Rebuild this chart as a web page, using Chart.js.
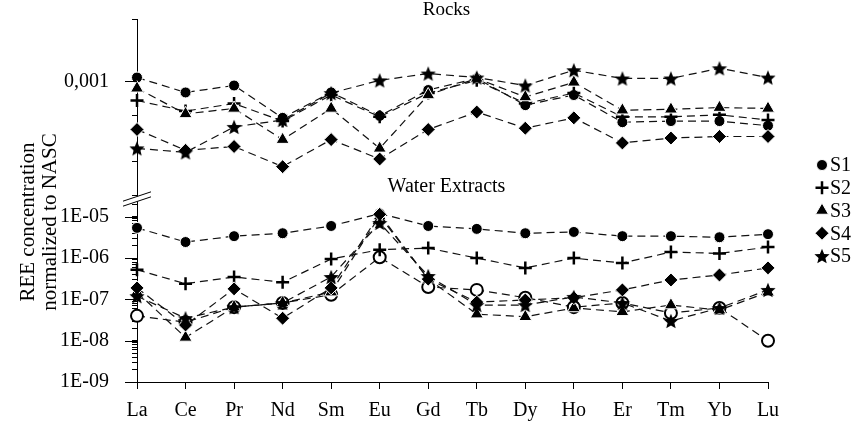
<!DOCTYPE html>
<html>
<head>
<meta charset="utf-8">
<script src="https://cdn.jsdelivr.net/npm/chart.js@4.4.1/dist/chart.umd.min.js"></script>
<style>
  html, body { margin: 0; padding: 0; background: #fff; }
</style>
</head>
<body>
<canvas id="ree-chart" width="858" height="428"></canvas>
<script>
// elements on the x axis
const elements = ['La', 'Ce', 'Pr', 'Nd', 'Sm', 'Eu', 'Gd', 'Tb', 'Dy', 'Ho', 'Er', 'Tm', 'Yb', 'Lu'];
const seriesNames = ['S1', 'S2', 'S3', 'S4', 'S5'];

// Rocks (upper panel)
const rockS1 = [0.00108, 0.0008, 0.00092, 0.00048, 0.0008, 0.0005, 0.00084, 0.00106, 0.00062, 0.00076, 0.00044, 0.00045, 0.00045, 0.00041];
const rockS2 = [0.00068, 0.00055, 0.00064, 0.00045, 0.00076, 0.00049, 0.00079, 0.00102, 0.00064, 0.00079, 0.00049, 0.00049, 0.00051, 0.00046];
const rockS3 = [0.00087, 0.00052, 0.00058, 0.00031, 0.00058, 0.00026, 0.00076, 0.00106, 0.00073, 0.00098, 0.00056, 0.00057, 0.00059, 0.00058];
const rockS4 = [0.00038, 0.00025, 0.00027, 0.00018, 0.00031, 0.00021, 0.00038, 0.00054, 0.00039, 0.00048, 0.00029, 0.00032, 0.00033, 0.00033];
const rockS5 = [0.00026, 0.00024, 0.0004, 0.00046, 0.00079, 0.00102, 0.00117, 0.00108, 0.00092, 0.00125, 0.00106, 0.00106, 0.0013, 0.00108];

// Water extracts (lower panel)
const waterS1 = [5.4e-6, 2.45e-6, 3.4e-6, 4.0e-6, 6.0e-6, 1.2e-5, 6.0e-6, 5.1e-6, 4.0e-6, 4.3e-6, 3.4e-6, 3.4e-6, 3.2e-6, 3.8e-6];
const waterS2 = [5.2e-7, 2.4e-7, 3.5e-7, 2.6e-7, 9.5e-7, 1.6e-6, 1.75e-6, 1.0e-6, 5.8e-7, 1.0e-6, 7.6e-7, 1.4e-6, 1.3e-6, 1.85e-6];
const waterS3 = [1.5e-7, 1.2e-8, 6.5e-8, 8.2e-8, 1.5e-7, 1.05e-5, 3.1e-7, 4.4e-8, 3.8e-8, 6.2e-8, 5.0e-8, 7.3e-8, 5.5e-8, 1.5e-7];
const waterS4 = [1.9e-7, 2.4e-8, 1.8e-7, 3.5e-8, 1.9e-7, 1.15e-5, 3.1e-7, 8.6e-8, 9.7e-8, 1.1e-7, 1.7e-7, 2.95e-7, 3.9e-7, 5.8e-7];
const waterS5 = [1.2e-7, 3.5e-8, 6.5e-8, 8.2e-8, 3.5e-7, 7.1e-6, 3.7e-7, 7.3e-8, 7.3e-8, 1.15e-7, 8.2e-8, 3.0e-8, 6.2e-8, 1.7e-7];
const waterOpen = [4.0e-8, 2.8e-8, 6.5e-8, 8.2e-8, 1.3e-7, 1.05e-6, 2.0e-7, 1.7e-7, 1.1e-7, 6.5e-8, 8.2e-8, 4.7e-8, 6.2e-8, 1.0e-8];

// axis ticks
const rockTicks = [0.0001, 0.0002, 0.0005, 0.001, 0.0035];
const rockTickLabels = ['', '', '', '0,001', ''];
const waterDecades = [1e-9, 1e-8, 1e-7, 1e-6, 1e-5];
const waterTickLabels = ['1E-09', '1E-08', '1E-07', '1E-06', '1E-05'];

const FONT = '"Liberation Serif", "Times New Roman", serif';

function starMarker(r) {
  const size = Math.ceil(2 * r + 4);
  const c = document.createElement('canvas');
  c.width = size;
  c.height = size;
  const g = c.getContext('2d');
  const cx = size / 2, cy = size / 2 + r * 0.1;
  g.beginPath();
  for (let i = 0; i < 10; i++) {
    const rr = i % 2 ? r * 0.45 : r;
    const a = -Math.PI / 2 + i * Math.PI / 5;
    g.lineTo(cx + rr * Math.cos(a), cy + rr * Math.sin(a));
  }
  g.closePath();
  g.fillStyle = '#000';
  g.fill();
  return c;
}
const star = starMarker(8);

const markers = [
  {pointStyle: 'circle', pointRadius: 5.5, pointBackgroundColor: '#000', pointBorderColor: '#fff', pointBorderWidth: 1},
  {pointStyle: 'cross', pointRadius: 6.5, pointBackgroundColor: '#000', pointBorderColor: '#000', pointBorderWidth: 2.5},
  {pointStyle: 'triangle', pointRadius: 7.5, pointBackgroundColor: '#000', pointBorderColor: '#fff', pointBorderWidth: 1},
  {pointStyle: 'rectRot', pointRadius: 7, pointBackgroundColor: '#000', pointBorderColor: '#fff', pointBorderWidth: 1},
  {pointStyle: star, pointRadius: 7, pointBackgroundColor: '#000', pointBorderColor: '#000', pointBorderWidth: 1}
];
const openMarker = {pointStyle: 'circle', pointRadius: 6, pointBackgroundColor: '#fff', pointBorderColor: '#000', pointBorderWidth: 2};

function series(label, data, axis, marker, order) {
  return Object.assign({
    label: label,
    data: data,
    yAxisID: axis,
    borderColor: '#111',
    borderWidth: 1.2,
    borderDash: [8, 5],
    fill: false,
    tension: 0,
    clip: false,
    order: order
  }, marker);
}

const rockData = [rockS1, rockS2, rockS3, rockS4, rockS5];
const waterData = [waterS1, waterS2, waterS3, waterS4, waterS5];

const datasets = [];
rockData.forEach((d, i) => datasets.push(series(seriesNames[i], d, 'yR', markers[i], 6 - i)));
waterData.forEach((d, i) => datasets.push(series(seriesNames[i], d, 'yW', markers[i], 6 - i)));
datasets.push(series('', waterOpen, 'yW', openMarker, 7));

function waterTicks() {
  const t = [];
  waterDecades.forEach(d => {
    for (let k = 1; k <= 9; k++) {
      if (d * k <= 2.7e-5) t.push({value: d * k});
    }
  });
  return t;
}

// keep the plot box where the reference has it
function fixWidth(s) {
  s.width = 77;
  s.paddingTop = 0;
  s.paddingBottom = 0;
}

const overlay = {
  id: 'overlay',
  afterDraw(chart) {
    const {ctx, chartArea, scales} = chart;
    const x0 = chartArea.left;
    const yR = scales.yR, yW = scales.yW;
    ctx.save();
    ctx.strokeStyle = '#000';
    ctx.lineWidth = 1;

    // longer major ticks
    ctx.beginPath();
    waterDecades.forEach(v => {
      const y = Math.round(yW.getPixelForValue(v)) + 0.5;
      ctx.moveTo(x0 - 12, y);
      ctx.lineTo(x0, y);
    });
    const y3 = Math.round(yR.getPixelForValue(0.001)) + 0.5;
    ctx.moveTo(x0 - 12, y3);
    ctx.lineTo(x0, y3);
    ctx.stroke();

    // axis break
    const by = yW.top;
    const p = (dx, off) => [x0 + dx, by + off - dx / 3];
    ctx.fillStyle = '#fff';
    ctx.beginPath();
    ctx.moveTo(...p(-14, -2.5));
    ctx.lineTo(...p(14, -2.5));
    ctx.lineTo(...p(14, 2.5));
    ctx.lineTo(...p(-14, 2.5));
    ctx.closePath();
    ctx.fill();
    ctx.beginPath();
    ctx.moveTo(...p(-14, -2.5));
    ctx.lineTo(...p(14, -2.5));
    ctx.moveTo(...p(-14, 2.5));
    ctx.lineTo(...p(14, 2.5));
    ctx.stroke();

    // panel captions
    const cx = (chartArea.left + chartArea.right) / 2 - 6;
    ctx.fillStyle = '#000';
    ctx.font = '19px ' + FONT;
    ctx.textAlign = 'center';
    ctx.textBaseline = 'middle';
    ctx.fillText('Rocks', cx, 10);
    ctx.font = '20px ' + FONT;
    ctx.fillText('Water Extracts', cx, by - 12);

    // y axis title
    ctx.font = '21px ' + FONT;
    ctx.save();
    ctx.translate(28, 222);
    ctx.rotate(-Math.PI / 2);
    ctx.fillText('REE concentration', 0, 0);
    ctx.restore();
    ctx.save();
    ctx.translate(50, 222);
    ctx.rotate(-Math.PI / 2);
    ctx.fillText('normalized to NASC', 0, 0);
    ctx.restore();

    // legend
    ctx.font = '20px ' + FONT;
    ctx.textAlign = 'left';
    seriesNames.forEach((name, i) => {
      const m = markers[i];
      const lx = 822, ly = 165 + i * 22.75;
      ctx.fillStyle = '#000';
      ctx.strokeStyle = m.pointBorderColor;
      ctx.lineWidth = m.pointBorderWidth;
      Chart.helpers.drawPoint(ctx, {pointStyle: m.pointStyle, radius: m.pointRadius, rotation: 0, borderWidth: m.pointBorderWidth}, lx, ly);
      ctx.fillStyle = '#000';
      ctx.fillText(name, lx + 8, ly + 1);
    });
    ctx.restore();
  }
};

new Chart(document.getElementById('ree-chart').getContext('2d'), {
  type: 'line',
  data: {labels: elements, datasets: datasets},
  options: {
    responsive: false,
    animation: false,
    layout: {autoPadding: false, padding: {left: 60, right: 90, top: 19, bottom: 0}},
    plugins: {legend: {display: false}, tooltip: {enabled: false}},
    scales: {
      x: {
        type: 'category',
        offset: false,
        border: {color: '#000', width: 1},
        grid: {drawOnChartArea: false, tickLength: 7, color: '#000', offset: false},
        ticks: {color: '#000', font: {family: FONT, size: 20}, padding: 10, maxRotation: 0, autoSkip: false},
        afterFit(s) { s.height = 46; s.paddingLeft = 0; s.paddingRight = 0; }
      },
      yW: {
        type: 'logarithmic',
        position: 'left',
        stack: 'ree',
        stackWeight: 183,
        min: 1e-9,
        max: 2.7e-5,
        border: {color: '#000', width: 1},
        grid: {drawOnChartArea: false, tickLength: 5, color: '#000'},
        ticks: {
          color: '#000', font: {family: FONT, size: 20}, padding: 23, autoSkip: false,
          callback(v) {
            const i = waterDecades.findIndex(d => Math.abs(v / d - 1) < 1e-6);
            return i >= 0 ? waterTickLabels[i] : '';
          }
        },
        afterBuildTicks(s) { s.ticks = waterTicks(); },
        afterFit: fixWidth
      },
      yR: {
        type: 'logarithmic',
        position: 'left',
        stack: 'ree',
        stackWeight: 180,
        min: 9.4e-5,
        max: 0.0035,
        border: {color: '#000', width: 1},
        grid: {drawOnChartArea: false, tickLength: 5, color: '#000'},
        ticks: {
          color: '#000', font: {family: FONT, size: 20}, padding: 23, autoSkip: false,
          callback(v) {
            const i = rockTicks.findIndex(d => Math.abs(v / d - 1) < 1e-6);
            return i >= 0 ? rockTickLabels[i] : '';
          }
        },
        afterBuildTicks(s) { s.ticks = rockTicks.map(v => ({value: v})); },
        afterFit: fixWidth
      }
    }
  },
  plugins: [overlay]
});
</script>
</body>
</html>
